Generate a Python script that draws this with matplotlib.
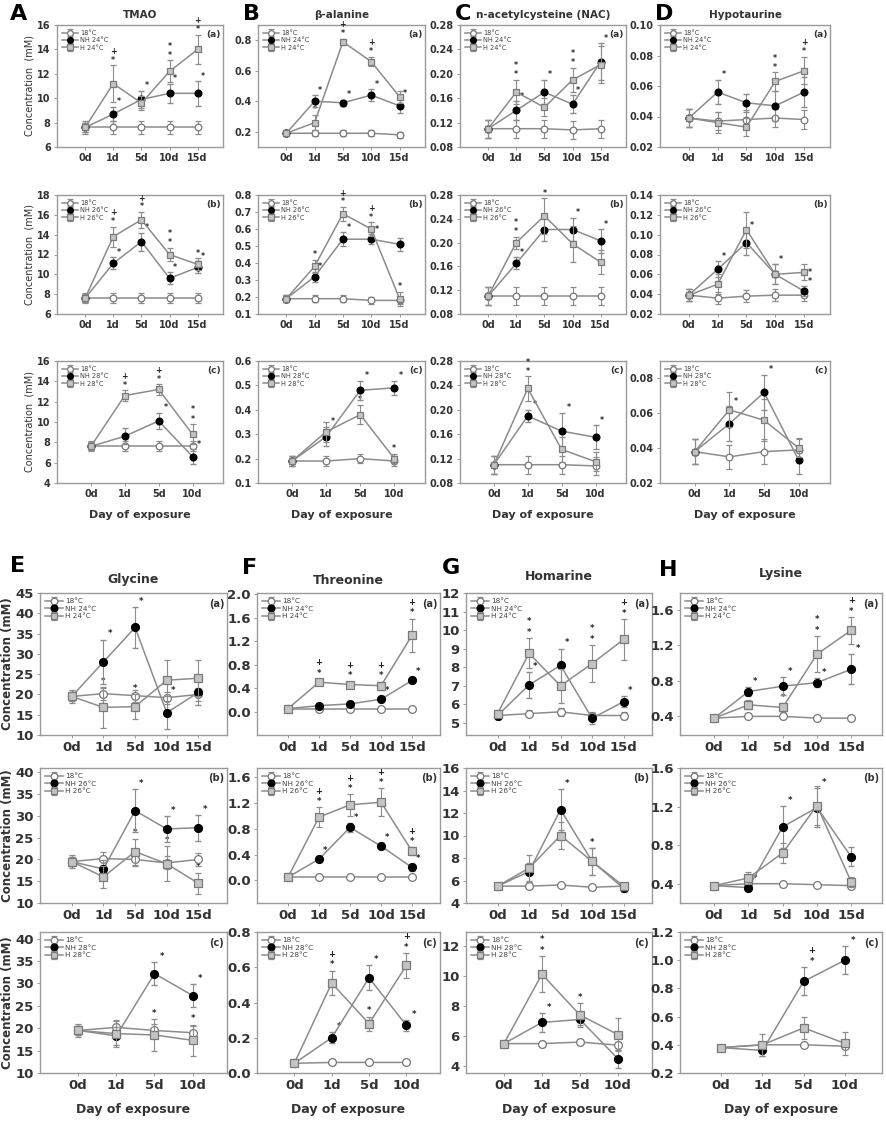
import numpy as np
import matplotlib.pyplot as plt

plt.rcParams['font.family'] = ['DejaVu Sans']

dias5 = ['0d', '1d', '5d', '10d', '15d']
dias4 = ['0d', '1d', '5d', '10d']
temps = ['24', '26', '28']
tags = ['(a)', '(b)', '(c)']

# ---- TMAO (linhas a, b, c)
tmao_ctrl = [[7.6, 7.6, 7.6, 7.6, 7.6], [7.6, 7.6, 7.6, 7.6, 7.6], [7.6, 7.6, 7.6, 7.6]]
tmao_nh = [[7.6, 8.7, 9.9, 10.4, 10.4], [7.6, 11.1, 13.3, 9.6, 10.7], [7.6, 8.6, 10.1, 6.6]]
tmao_h = [[7.6, 11.2, 9.6, 12.2, 14.0], [7.6, 13.8, 15.5, 12.0, 11.0], [7.6, 12.6, 13.2, 8.8]]
tmao_ctrl_err = [[0.5] * 5, [0.5] * 5, [0.5] * 4]
tmao_nh_err = [[0.4, 0.6, 0.7, 0.8, 1.0], [0.4, 0.6, 0.9, 0.6, 0.6], [0.4, 0.8, 0.8, 0.7]]
tmao_h_err = [[0.4, 1.5, 0.6, 0.9, 1.2], [0.4, 1.0, 0.8, 0.7, 0.6], [0.4, 0.5, 0.5, 1.0]]
tmao_nh_sig = [['', '*', '*', '*', '*'], ['', '*', '*', '*', '*'], ['', '', '*', '*']]
tmao_h_sig = [['', '*+', '', '**', '*+'], ['', '*+', '*+', '**', '*'], ['', '*+', '*+', '**']]

# ---- beta-alanina
bala_ctrl = [[0.19, 0.19, 0.19, 0.19, 0.18], [0.19, 0.19, 0.19, 0.18, 0.18], [0.19, 0.19, 0.20, 0.19]]
bala_nh = [[0.19, 0.40, 0.39, 0.44, 0.37], [0.19, 0.32, 0.54, 0.54, 0.51], [0.19, 0.29, 0.48, 0.49]]
bala_h = [[0.19, 0.26, 0.79, 0.66, 0.43], [0.19, 0.38, 0.69, 0.60, 0.19], [0.19, 0.31, 0.38, 0.20]]
bala_ctrl_err = [[0.02] * 5, [0.02] * 5, [0.02] * 4]
bala_nh_err = [[0.02, 0.04, 0.02, 0.04, 0.05], [0.02, 0.03, 0.04, 0.03, 0.04], [0.02, 0.04, 0.04, 0.03]]
bala_h_err = [[0.02, 0.05, 0.02, 0.03, 0.04], [0.02, 0.04, 0.04, 0.04, 0.04], [0.02, 0.04, 0.04, 0.02]]
bala_nh_sig = [['', '*', '*', '*', '*'], ['', '*', '*', '*', ''], ['', '*', '*', '*']]
bala_h_sig = [['', '*', '*+', '*+', ''], ['', '*', '*+', '*+', '*'], ['', '', '*+', '*']]

# ---- NAC
nac_ctrl = [[0.11, 0.11, 0.11, 0.108, 0.11], [0.11, 0.11, 0.11, 0.11, 0.11], [0.11, 0.11, 0.11, 0.108]]
nac_nh = [[0.11, 0.14, 0.17, 0.15, 0.22], [0.11, 0.165, 0.222, 0.222, 0.203], [0.11, 0.19, 0.165, 0.155]]
nac_h = [[0.11, 0.17, 0.145, 0.19, 0.215], [0.11, 0.20, 0.245, 0.198, 0.167], [0.11, 0.235, 0.135, 0.115]]
nac_ctrl_err = [[0.015] * 5, [0.015] * 5, [0.015] * 4]
nac_nh_err = [[0.015, 0.015, 0.02, 0.015, 0.03], [0.015, 0.01, 0.02, 0.02, 0.02], [0.015, 0.01, 0.03, 0.02]]
nac_h_err = [[0.015, 0.02, 0.015, 0.02, 0.03], [0.015, 0.01, 0.03, 0.03, 0.02], [0.015, 0.02, 0.02, 0.015]]
nac_nh_sig = [['', '*', '*', '*', '*'], ['', '*', '', '*', '*'], ['', '*', '*', '*']]
nac_h_sig = [['', '**', '', '**', ''], ['', '**', '*', '', ''], ['', '**', '', '']]

# ---- Hipotaurina
hypo_ctrl = [[0.039, 0.037, 0.038, 0.039, 0.038], [0.039, 0.036, 0.038, 0.039, 0.039], [0.038, 0.035, 0.038, 0.039]]
hypo_nh = [[0.039, 0.056, 0.049, 0.047, 0.056], [0.039, 0.065, 0.092, 0.060, 0.043], [0.038, 0.054, 0.072, 0.033]]
hypo_h = [[0.039, 0.036, 0.033, 0.063, 0.070], [0.039, 0.050, 0.105, 0.060, 0.062], [0.038, 0.062, 0.056, 0.040]]
hypo_ctrl_err = [[0.006] * 5, [0.006] * 5, [0.007] * 4]
hypo_nh_err = [[0.006, 0.008, 0.006, 0.01, 0.01], [0.006, 0.008, 0.012, 0.01, 0.005], [0.007, 0.01, 0.01, 0.008]]
hypo_h_err = [[0.006, 0.007, 0.006, 0.006, 0.009], [0.006, 0.01, 0.018, 0.01, 0.008], [0.007, 0.01, 0.012, 0.005]]
hypo_nh_sig = [['', '*', '', '', ''], ['', '*', '*', '*', '**'], ['', '*', '*', '']]
hypo_h_sig = [['', '', '', '**', '*+'], ['', '*', '', '', ''], ['', '', '*', '']]

# ---- Glicina
gly_ctrl = [[19.5, 20.2, 19.7, 19.2, 20.0], [19.5, 20.2, 20.0, 19.2, 20.0], [19.5, 20.2, 19.5, 19.0]]
gly_nh = [[19.5, 28.0, 36.5, 15.5, 20.5], [19.5, 17.8, 31.2, 27.0, 27.3], [19.5, 18.3, 32.2, 27.3]]
gly_h = [[19.5, 16.8, 17.0, 23.5, 24.0], [19.5, 16.0, 21.8, 19.0, 14.5], [19.5, 18.8, 18.5, 17.3]]
gly_ctrl_err = [[1.5] * 5, [1.5] * 5, [1.5] * 4]
gly_nh_err = [[1, 5.5, 5, 4, 3], [1, 2, 5, 3, 3], [1, 2, 2.5, 2.5]]
gly_h_err = [[1, 5, 3, 5, 4.5], [1, 2.5, 3, 4, 2.5], [1, 3, 3.5, 3.5]]
gly_nh_sig = [['', '*', '*', '*', ''], ['', '', '*', '*', '*'], ['', '', '*', '*']]
gly_h_sig = [['', '*', '*', '', ''], ['', '', '*', '*', '*'], ['', '', '*', '*']]

# ---- Treonina
thr_ctrl = [[0.05, 0.05, 0.05, 0.05, 0.05], [0.05, 0.05, 0.05, 0.05, 0.05], [0.055, 0.06, 0.06, 0.06]]
thr_nh = [[0.05, 0.10, 0.13, 0.21, 0.53], [0.05, 0.33, 0.82, 0.53, 0.20], [0.055, 0.20, 0.54, 0.27]]
thr_h = [[0.05, 0.50, 0.46, 0.44, 1.30], [0.05, 0.98, 1.17, 1.21, 0.45], [0.055, 0.51, 0.28, 0.61]]
thr_ctrl_err = [[0.02] * 5, [0.02] * 5, [0.01] * 4]
thr_nh_err = [[0.02, 0.03, 0.03, 0.05, 0.05], [0.02, 0.05, 0.07, 0.05, 0.05], [0.01, 0.03, 0.07, 0.03]]
thr_h_err = [[0.02, 0.05, 0.05, 0.07, 0.28], [0.02, 0.15, 0.17, 0.22, 0.06], [0.01, 0.07, 0.04, 0.07]]
thr_nh_sig = [['', '', '', '*', '*'], ['', '*', '*', '*', '*'], ['', '*', '*', '*']]
thr_h_sig = [['', '*+', '*+', '*+', '*+'], ['', '*+', '*+', '*+', '*+'], ['', '*+', '*', '*+']]

# ---- Homarina
hom_ctrl = [[5.4, 5.5, 5.6, 5.4, 5.4], [5.5, 5.5, 5.6, 5.4, 5.5], [5.5, 5.5, 5.6, 5.4]]
hom_nh = [[5.4, 7.05, 8.1, 5.25, 6.15], [5.5, 6.8, 12.3, 7.7, 5.3], [5.5, 6.9, 7.1, 4.5]]
hom_h = [[5.5, 8.75, 7.0, 8.2, 9.5], [5.5, 7.1, 10.0, 7.7, 5.5], [5.5, 10.1, 7.4, 6.1]]
hom_ctrl_err = [[0.2] * 5, [0.2] * 5, [0.2] * 4]
hom_nh_err = [[0.2, 0.7, 0.9, 0.3, 0.3], [0.2, 0.8, 1.8, 1.2, 0.3], [0.2, 0.6, 0.4, 0.6]]
hom_h_err = [[0.2, 0.8, 0.9, 1.0, 1.1], [0.2, 1.2, 1.2, 1.2, 0.3], [0.2, 1.2, 0.8, 1.1]]
hom_nh_sig = [['', '*', '*', '', '*'], ['', '', '*', '', ''], ['', '*', '', '']]
hom_h_sig = [['', '**', '', '**', '*+'], ['', '', '', '*', ''], ['', '**', '*', '']]

# ---- Lisina
lys_ctrl = [[0.38, 0.40, 0.40, 0.38, 0.38], [0.38, 0.40, 0.40, 0.39, 0.38], [0.38, 0.40, 0.40, 0.39]]
lys_nh = [[0.38, 0.68, 0.74, 0.78, 0.93], [0.38, 0.36, 0.99, 1.19, 0.68], [0.38, 0.36, 0.85, 1.00]]
lys_h = [[0.38, 0.53, 0.50, 1.10, 1.37], [0.38, 0.46, 0.72, 1.21, 0.42], [0.38, 0.40, 0.52, 0.41]]
lys_ctrl_err = [[0.01] * 5, [0.01] * 5, [0.01] * 4]
lys_nh_err = [[0.01, 0.05, 0.1, 0.05, 0.17], [0.01, 0.04, 0.22, 0.2, 0.1], [0.01, 0.04, 0.1, 0.1]]
lys_h_err = [[0.01, 0.05, 0.05, 0.2, 0.15], [0.01, 0.06, 0.1, 0.2, 0.05], [0.01, 0.08, 0.08, 0.08]]
lys_nh_sig = [['', '*', '*', '*', '*'], ['', '*', '*', '*', ''], ['', '', '*+', '*']]
lys_h_sig = [['', '', '*', '**', '*+'], ['', '', '', '', ''], ['', '', '', '']]

COR_LINHA = '#8c8c8c'
COR_BORDA = '#9a9a9a'


def px_para_fig(x0, y0, x1, y1):
    W, H = 886.0, 1128.0
    return [x0 / W, 1 - y1 / H, (x1 - x0) / W, (y1 - y0) / H]


def desenhar_painel(ax, ctrl, nh, h, errs, sigs, temp, tag, ylim, yticks, fmt, grande):
    n = len(ctrl)
    x = np.arange(n)
    ms = 5.6 if grande else 4.8
    fs_tick = 9.5 if grande else 7
    fs_leg = 5.2 if grande else 4.8
    ctrl_err, nh_err, h_err = errs
    ax.errorbar(x, ctrl, yerr=ctrl_err, color=COR_LINHA, lw=1.1, ecolor=COR_LINHA,
                elinewidth=0.8, capsize=2, marker='o', ms=ms, mfc='white', mec='#777777',
                mew=0.9, label='18°C', zorder=3)
    ax.errorbar(x, nh, yerr=nh_err, color=COR_LINHA, lw=1.1, ecolor=COR_LINHA,
                elinewidth=0.8, capsize=2, marker='o', ms=ms, mfc='black', mec='black',
                label='NH ' + temp + '°C', zorder=4)
    ax.errorbar(x, h, yerr=h_err, color=COR_LINHA, lw=1.1, ecolor=COR_LINHA,
                elinewidth=0.8, capsize=2, marker='s', ms=ms, mfc='#c4c4c4', mec='#7a7a7a',
                mew=0.9, label='H ' + temp + '°C', zorder=5)
    passo = (ylim[1] - ylim[0]) * 0.075
    for serie, err, sig, dx in ((nh, nh_err, sigs[0], 0.2), (h, h_err, sigs[1], 0.0)):
        for i in range(n):
            marcas = sig[i]
            base = serie[i] + err[i] + passo * 0.55
            for k, m in enumerate(marcas):
                ax.text(i + dx, base + k * passo, m, ha='center', va='center',
                        fontsize=6 if grande else 5.6, color='#222222', fontweight='bold')
    ax.set_xlim(-1, n - 0.1)
    ax.set_ylim(*ylim)
    ax.set_yticks(yticks)
    ax.set_yticklabels([fmt.format(v) for v in yticks], fontsize=fs_tick, fontweight='bold', color='#333333')
    ax.set_xticks(x)
    ax.set_xticklabels(dias5 if n == 5 else dias4, fontsize=fs_tick, fontweight='bold', color='#333333')
    ax.tick_params(length=2.5, width=0.7, color=COR_BORDA, pad=2)
    for s in ax.spines.values():
        s.set_color(COR_BORDA)
        s.set_linewidth(1.0)
    leg = ax.legend(loc='upper left', fontsize=fs_leg, frameon=False, handlelength=2.4,
                    borderaxespad=0.35, labelspacing=0.2, handletextpad=0.3, markerscale=0.85)
    for t in leg.get_texts():
        t.set_color('#444444')
    ax.text(0.985, 0.96, tag, transform=ax.transAxes, ha='right', va='top',
            fontsize=7 if grande else 6.5, fontweight='bold', color='#333333')


metabolitos = [
    ('TMAO', 'A', (tmao_ctrl, tmao_nh, tmao_h), (tmao_ctrl_err, tmao_nh_err, tmao_h_err), (tmao_nh_sig, tmao_h_sig)),
    ('β-alanine', 'B', (bala_ctrl, bala_nh, bala_h), (bala_ctrl_err, bala_nh_err, bala_h_err), (bala_nh_sig, bala_h_sig)),
    ('n-acetylcysteine (NAC)', 'C', (nac_ctrl, nac_nh, nac_h), (nac_ctrl_err, nac_nh_err, nac_h_err), (nac_nh_sig, nac_h_sig)),
    ('Hypotaurine', 'D', (hypo_ctrl, hypo_nh, hypo_h), (hypo_ctrl_err, hypo_nh_err, hypo_h_err), (hypo_nh_sig, hypo_h_sig)),
    ('Glycine', 'E', (gly_ctrl, gly_nh, gly_h), (gly_ctrl_err, gly_nh_err, gly_h_err), (gly_nh_sig, gly_h_sig)),
    ('Threonine', 'F', (thr_ctrl, thr_nh, thr_h), (thr_ctrl_err, thr_nh_err, thr_h_err), (thr_nh_sig, thr_h_sig)),
    ('Homarine', 'G', (hom_ctrl, hom_nh, hom_h), (hom_ctrl_err, hom_nh_err, hom_h_err), (hom_nh_sig, hom_h_sig)),
    ('Lysine', 'H', (lys_ctrl, lys_nh, lys_h), (lys_ctrl_err, lys_nh_err, lys_h_err), (lys_nh_sig, lys_h_sig)),
]

# eixos: limites y, ticks e formato por painel (linha a, b, c)
eixos_y = {
    'A': [((6, 16), np.arange(6, 17, 2), '{:.0f}'), ((6, 18), np.arange(6, 19, 2), '{:.0f}'), ((4, 16), np.arange(4, 17, 2), '{:.0f}')],
    'B': [((0.1, 0.9), np.arange(0.2, 0.81, 0.2), '{:.1f}'), ((0.1, 0.8), np.arange(0.1, 0.81, 0.1), '{:.1f}'), ((0.1, 0.6), np.arange(0.1, 0.61, 0.1), '{:.1f}')],
    'C': [((0.08, 0.28), np.arange(0.08, 0.281, 0.04), '{:.2f}'), ((0.08, 0.28), np.arange(0.08, 0.281, 0.04), '{:.2f}'), ((0.08, 0.28), np.arange(0.08, 0.281, 0.04), '{:.2f}')],
    'D': [((0.02, 0.10), np.arange(0.02, 0.101, 0.02), '{:.2f}'), ((0.02, 0.14), np.arange(0.02, 0.141, 0.02), '{:.2f}'), ((0.02, 0.09), np.arange(0.02, 0.081, 0.02), '{:.2f}')],
    'E': [((10, 45), np.arange(10, 46, 5), '{:.0f}'), ((10, 41), np.arange(10, 41, 5), '{:.0f}'), ((10, 41.5), np.arange(10, 41, 5), '{:.0f}')],
    'F': [((-0.4, 2.02), np.arange(0, 2.01, 0.4), '{:.1f}'), ((-0.35, 1.74), np.arange(0, 1.61, 0.4), '{:.1f}'), ((0, 0.8), np.arange(0, 0.81, 0.2), '{:.1f}')],
    'G': [((4.35, 12), np.arange(5, 13, 1), '{:.0f}'), ((4, 16), np.arange(4, 17, 2), '{:.0f}'), ((3.55, 12.9), np.arange(4, 13, 2), '{:.0f}')],
    'H': [((0.19, 1.79), np.arange(0.4, 1.61, 0.4), '{:.1f}'), ((0.2, 1.6), np.arange(0.4, 1.61, 0.4), '{:.1f}'), ((0.2, 1.2), np.arange(0.2, 1.21, 0.2), '{:.1f}')],
}

# posicoes em pixels
colunas_topo = [(57, 223), (258, 425), (460, 626), (660, 830)]
linhas_topo = [(25, 147), (195, 314), (361, 483)]
colunas_base = [(40, 227), (257, 440), (466, 652), (680, 882)]
linhas_base = [(593, 735), (768, 903), (932, 1073)]
letras_pos = [(10, 14), (243, 14), (455, 14), (655, 14), (10, 566), (242, 568), (442, 568), (659, 570)]
titulos_y = [15, 15, 15, 15, 580, 580, 577, 574]

fig = plt.figure(figsize=(8.86, 11.28), dpi=100)

for j, (nome, letra, series, erros, sigs) in enumerate(metabolitos):
    grande = j >= 4
    cols = colunas_base if grande else colunas_topo
    rows = linhas_base if grande else linhas_topo
    x0, x1 = cols[j % 4]
    for r in range(3):
        y0, y1 = rows[r]
        ax = fig.add_axes(px_para_fig(x0, y0, x1, y1))
        ylim, yt, fmt = eixos_y[letra][r]
        desenhar_painel(ax, series[0][r], series[1][r], series[2][r],
                        (erros[0][r], erros[1][r], erros[2][r]),
                        (sigs[0][r], sigs[1][r]), temps[r], tags[r], ylim, yt, fmt, grande)
        if j % 4 == 0:
            if grande:
                ax.set_ylabel('Concentration (mM)', fontsize=8.5, fontweight='bold',
                              color='#333333', labelpad=1)
            else:
                ax.set_ylabel('Concentration  (mM)', fontsize=7, color='#333333', labelpad=2)
        if r == 2:
            ax.set_xlabel('Day of exposure', fontsize=9 if grande else 8,
                          fontweight='bold', color='#333333', labelpad=8)
    lx, ly = letras_pos[j]
    fig.text(lx / 886, 1 - ly / 1128, letra, fontsize=16, fontweight='bold', va='center', ha='left')
    fig.text((x0 + x1) / 2 / 886, 1 - titulos_y[j] / 1128, nome, fontsize=9 if grande else 7.5,
             fontweight='bold', ha='center', va='center', color='#333333')

fig.savefig('out.png', dpi=100)
